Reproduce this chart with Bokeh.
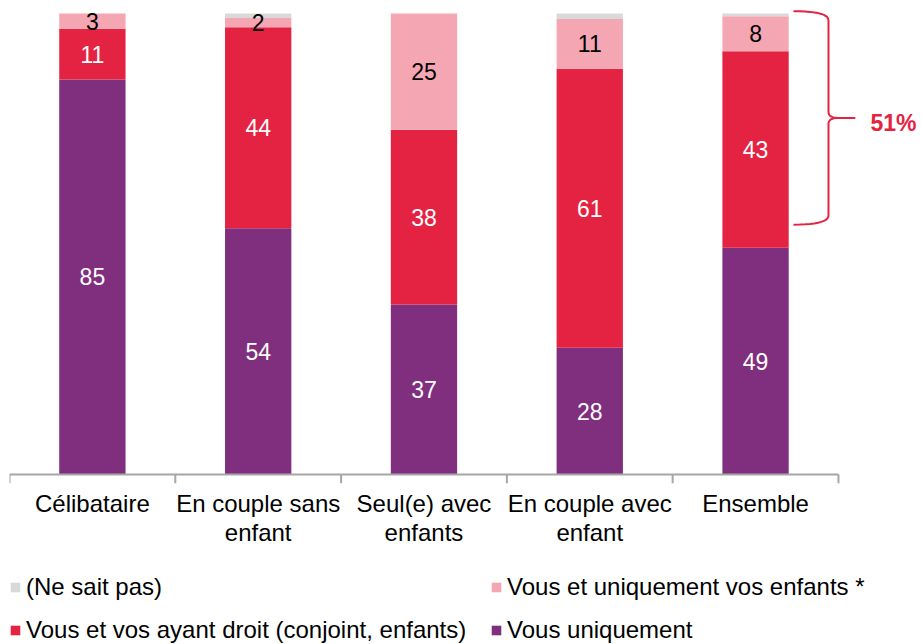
from bokeh.plotting import figure
from bokeh.layouts import column
from bokeh.models import FixedTicker, Legend, LegendItem, ColumnDataSource
from bokeh.embed import file_html
from bokeh.resources import INLINE
from bokeh.core.properties import value
import numpy as np

categories = ["Célibataire", "En couple sans\nenfant", "Seul(e) avec\nenfants",
              "En couple avec\nenfant", "Ensemble"]
vous_uniquement = [85.7, 53.4, 36.9, 27.5, 49.2]
ayant_droit = [11.0, 43.6, 37.9, 60.5, 42.6]
enfants = [3.3, 2.0, 25.2, 10.8, 7.6]
ne_sait_pas = [0.0, 1.0, 0.0, 1.2, 0.6]

labels_vous = ["85", "54", "37", "28", "49"]
labels_ayant = ["11", "44", "38", "61", "43"]
labels_enfants = ["3", "2", "25", "11", "8"]

series_names = ["Vous uniquement", "Vous et vos ayant droit (conjoint, enfants)",
                "Vous et uniquement vos enfants *", "(Ne sait pas)"]
colors = ["#7F2F7E", "#E42343", "#F4A7B2", "#D9D9D9"]

brace_label = "51%"
brace_top = 100.5
brace_bottom = 54.2

FONT = "Liberation Sans"
n = len(categories)
xs = [i + 0.5 for i in range(n)]

src = ColumnDataSource(dict(x=xs, vous=vous_uniquement, ayant=ayant_droit,
                            enf=enfants, nsp=ne_sait_pas))

p = figure(width=922, height=560, x_range=(0, 5.507), y_range=(-1.952, 102.82),
           output_backend="svg", toolbar_location=None, y_axis_location=None,
           min_border_left=9, min_border_right=0, min_border_top=0, min_border_bottom=77)
p.outline_line_color = None
p.xgrid.visible = False
p.ygrid.visible = False
p.background_fill_color = "white"

rs = p.vbar_stack(["vous", "ayant", "enf", "nsp"], x="x", width=0.4, color=colors,
                  line_color=None, source=src)

# bar labels
v = np.array(vous_uniquement); a = np.array(ayant_droit); e = np.array(enfants)
def lab(y, t, c):
    p.text(x=xs, y=list(y), text=t, text_align="center", text_baseline="middle",
           text_color=c, text_font=value(FONT), text_font_size="23px")
lab(v / 2, labels_vous, "white")
lab(v + a / 2, labels_ayant, "white")
lab(v + a + e / 2, labels_enfants, "black")

# axis line and boundary ticks
ystart = p.y_range.start
p.segment(x0=[0], y0=[0], x1=[n], y1=[0], line_color="#A6A6A6", line_width=2)
p.segment(x0=list(range(n + 1)), y0=[0] * (n + 1), x1=list(range(n + 1)),
          y1=[ystart] * (n + 1), line_color="#A6A6A6", line_width=2)

ax = p.xaxis[0]
ax.ticker = FixedTicker(ticks=xs)
ax.major_label_overrides = {x: c for x, c in zip(xs, categories)}
ax.axis_line_color = None
ax.major_tick_line_color = None
ax.minor_tick_line_color = None
ax.major_tick_out = 0
ax.major_tick_in = 0
ax.major_label_standoff = 6
ax.major_label_text_font = FONT
ax.major_label_text_font_size = "24px"
ax.major_label_text_line_height = 1.08
ax.major_label_text_color = "black"

# brace
xl, xm, xt = 4.729, 4.940, 5.102
mid = (brace_top + brace_bottom) / 2
def quad(p0, c, p1, k=12):
    t = np.linspace(0, 1, k)
    return ((1 - t) ** 2 * p0[0] + 2 * (1 - t) * t * c[0] + t ** 2 * p1[0],
            (1 - t) ** 2 * p0[1] + 2 * (1 - t) * t * c[1] + t ** 2 * p1[1])
s1 = quad((xl, brace_top), (xm, brace_top), (xm, brace_top - 2.0))
s2 = quad((xm, mid + 1.3), (xm, mid), (xm + 0.06, mid))
s3 = quad((xm + 0.06, mid), (xm, mid), (xm, mid - 1.3))
s4 = quad((xm, brace_bottom + 2.0), (xm, brace_bottom), (xl, brace_bottom))
bx = list(s1[0]) + list(s2[0]) + [xt, xm + 0.06] + list(s3[0]) + list(s4[0])
by = list(s1[1]) + list(s2[1]) + [mid, mid] + list(s3[1]) + list(s4[1])
p.line(bx, by, line_color=colors[1], line_width=2)
p.text(x=[5.193], y=[mid - 1.0], text=[brace_label], text_align="left",
       text_baseline="middle", text_color=colors[1], text_font=value(FONT),
       text_font_size="23px", text_font_style="bold")

# legend figure (legend key drawn from off-screen proxy renderers)
p2 = figure(width=922, height=84, x_range=(0, 1), y_range=(0, 1),
            output_backend="svg", toolbar_location=None,
            x_axis_location=None, y_axis_location=None,
            min_border_left=0, min_border_right=0, min_border_top=0, min_border_bottom=0)
p2.outline_line_color = None
p2.xgrid.visible = False
p2.ygrid.visible = False
lrs = [p2.vbar(x=[50], bottom=[50], top=[51], width=0.1, color=c, line_color=None)
       for c in colors]

order = [3, 2, 1, 0]
legend = Legend(items=[LegendItem(label=series_names[i], renderers=[lrs[i]]) for i in order],
                ncols=2, orientation="horizontal", location=(0, 0),
                label_text_font=FONT, label_text_font_size="24px", label_text_color="black",
                glyph_width=12, glyph_height=12, label_standoff=5, spacing=15,
                label_width=449, label_height=28,
                padding=0, margin=0, border_line_color=None, background_fill_alpha=0)
p2.add_layout(legend, "center")

layout = column(p, p2, spacing=0)
open("out.html", "w").write(file_html(layout, INLINE))
